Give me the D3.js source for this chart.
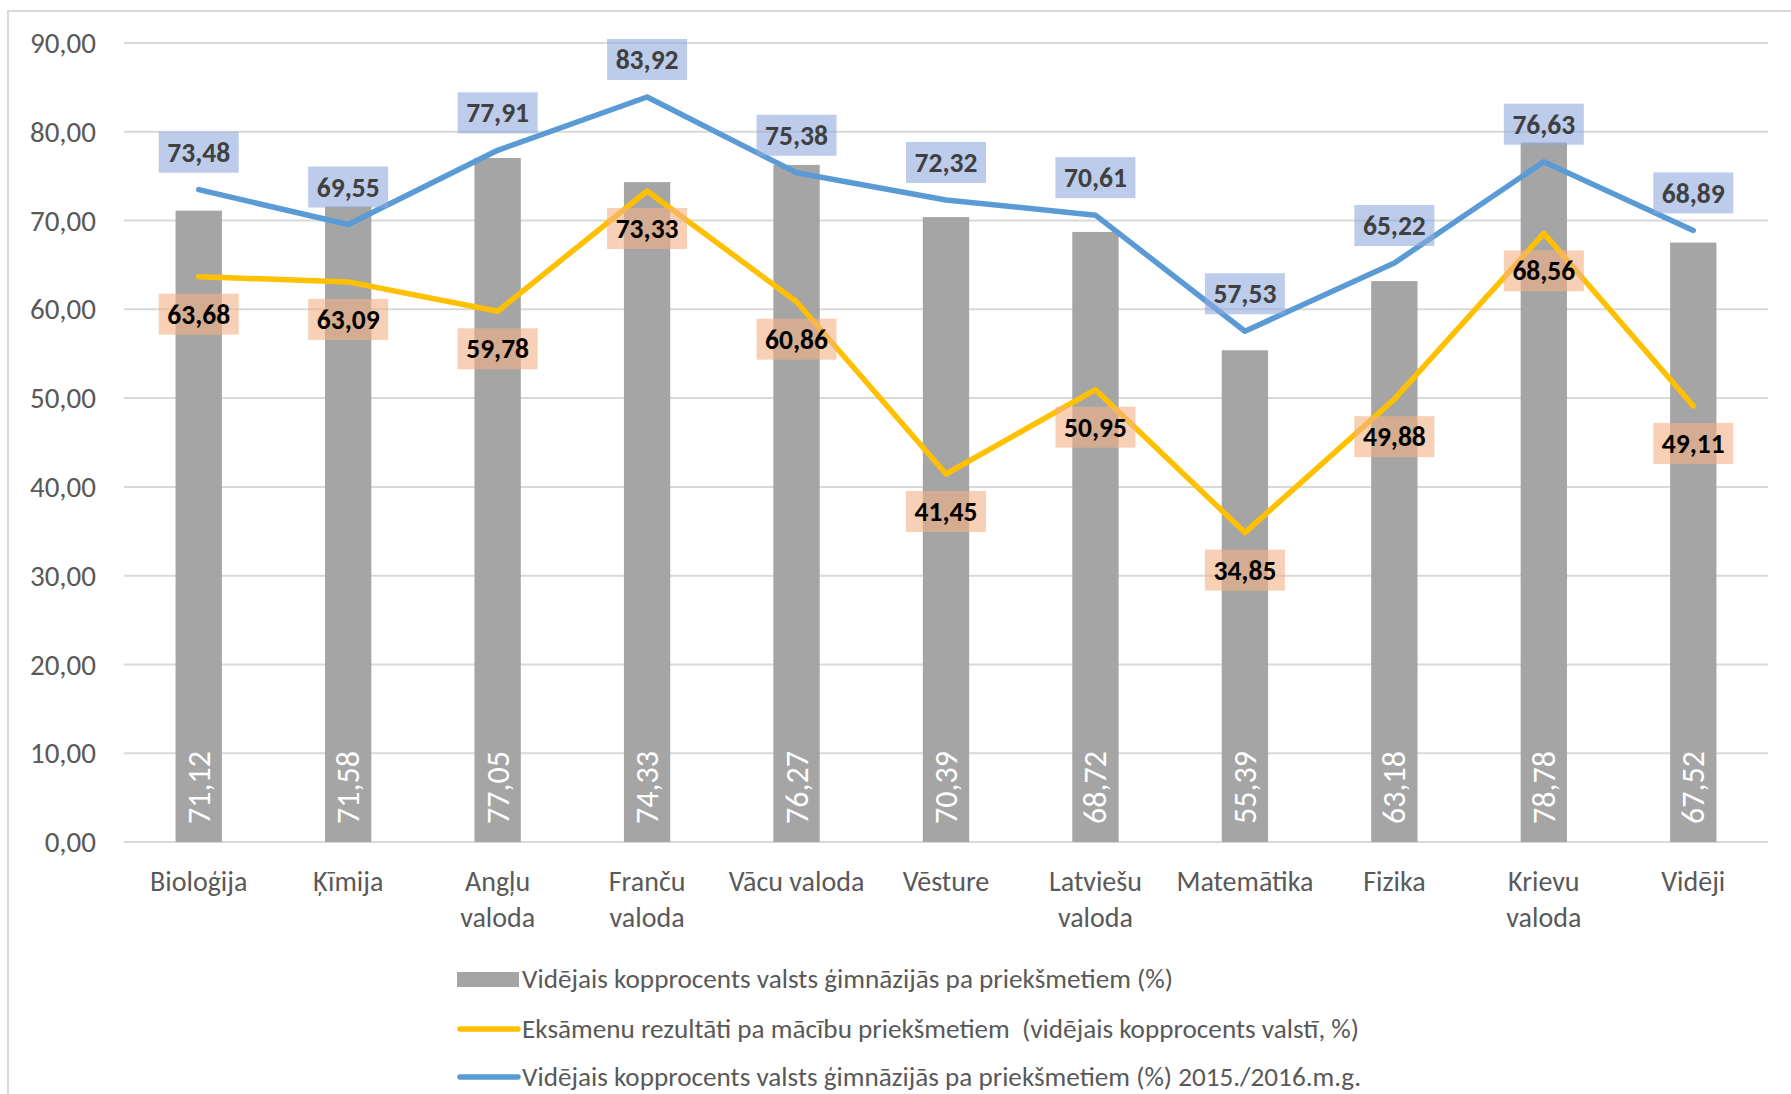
<!DOCTYPE html>
<html><head><meta charset="utf-8">
<script src="https://cdn.jsdelivr.net/npm/d3@7"></script>
<style>body{margin:0;background:#fff}svg{display:block}text{font-family:Carlito,"Liberation Sans",Arial,sans-serif;white-space:pre}</style>
</head><body>
<script>
const categories = [["Bioloģija"],["Ķīmija"],["Angļu","valoda"],["Franču","valoda"],["Vācu valoda"],["Vēsture"],["Latviešu","valoda"],["Matemātika"],["Fizika"],["Krievu","valoda"],["Vidēji"]];
const barValues = [71.12,71.58,77.05,74.33,76.27,70.39,68.72,55.39,63.18,78.78,67.52];
const examValues = [63.68,63.09,59.78,73.33,60.86,41.45,50.95,34.85,49.88,68.56,49.11];
const prevValues = [73.48,69.55,77.91,83.92,75.38,72.32,70.61,57.53,65.22,76.63,68.89];
const yTicks = [0,10,20,30,40,50,60,70,80,90];
const legendLabels = ["Vidējais kopprocents valsts ģimnāzijās pa priekšmetiem (%)","Eksāmenu rezultāti pa mācību priekšmetiem  (vidējais kopprocents valstī, %)","Vidējais kopprocents valsts ģimnāzijās pa priekšmetiem (%) 2015./2016.m.g."];

const W=1791,H=1094;
const svg=d3.select("body").append("svg").attr("width",W).attr("height",H);
const fmt=v=>v.toFixed(2).replace(".",",");
const x=d3.scaleBand().domain(d3.range(categories.length)).range([124,1768]).paddingInner(0.69).paddingOuter(0.345);
const y=d3.scaleLinear().domain([0,90]).range([842,43]);
const cx=i=>x(i)+x.bandwidth()/2;

// outer border
svg.append("path").attr("d","M8,1100 L8,11 L1800,11").attr("fill","none").attr("stroke","#d9d9d9").attr("stroke-width",2);

// gridlines
svg.append("g").selectAll("line").data(yTicks).join("line")
 .attr("x1",124).attr("x2",1768).attr("y1",d=>y(d)).attr("y2",d=>y(d))
 .attr("stroke","#d9d9d9").attr("stroke-width",2);
// y labels
svg.append("g").selectAll("text").data(yTicks).join("text")
 .attr("x",96).attr("y",d=>y(d)).attr("dy","0.35em").attr("text-anchor","end")
 .attr("font-size",29).attr("fill","#595959").text(d=>fmt(d));

// bars
svg.append("g").selectAll("rect").data(barValues).join("rect")
 .attr("x",(d,i)=>x(i)).attr("width",x.bandwidth()).attr("y",d=>y(d)).attr("height",d=>y(0)-y(d)).attr("fill","#a5a5a5");
svg.append("g").selectAll("text").data(barValues).join("text")
 .attr("transform",(d,i)=>`translate(${cx(i)+11},${y(0)-18}) rotate(-90)`)
 .attr("font-size",32).attr("fill","#fff").text(d=>fmt(d));

// category labels
const cl=svg.append("g").selectAll("text").data(categories).join("text")
 .attr("x",(d,i)=>cx(i)).attr("y",891).attr("text-anchor","middle").attr("font-size",28).attr("fill","#595959");
cl.selectAll("tspan").data(d=>d).join("tspan").attr("x",function(){return d3.select(this.parentNode).attr("x")}).attr("dy",(d,j)=>j?36:0).text(d=>d);

// lines
const line=d3.line().x((d,i)=>cx(i)).y(d=>y(d));
svg.append("path").datum(examValues).attr("d",line).attr("fill","none").attr("stroke","#ffc000").attr("stroke-width",5.5).attr("stroke-linecap","round").attr("stroke-linejoin","round");
svg.append("path").datum(prevValues).attr("d",line).attr("fill","none").attr("stroke","#5b9bd5").attr("stroke-width",5.5).attr("stroke-linecap","round").attr("stroke-linejoin","round");

// labels
function labels(vals,off,fill,op,color){
 const g=svg.append("g").selectAll("g").data(vals).join("g").attr("transform",(d,i)=>`translate(${cx(i)},${y(d)+off})`);
 g.append("rect").attr("x",-40).attr("y",-20.5).attr("width",80).attr("height",41).attr("fill",fill).attr("opacity",op);
 g.append("text").attr("text-anchor","middle").attr("dy","0.35em").attr("font-size",27.5).attr("font-weight","bold").attr("fill",color).text(d=>fmt(d));
}
labels(prevValues,-37.5,"#8faadc",0.6,"#404040");
labels(examValues,37.5,"#f4b183",0.6,"#000");

// legend
const lg=svg.append("g");
const ly=[979,1029,1077];
lg.append("rect").attr("x",457).attr("y",ly[0]-7).attr("width",62).attr("height",15).attr("fill","#a5a5a5");
lg.append("line").attr("x1",460).attr("x2",518).attr("y1",ly[1]).attr("y2",ly[1]).attr("stroke","#ffc000").attr("stroke-width",5.5).attr("stroke-linecap","round");
lg.append("line").attr("x1",460).attr("x2",518).attr("y1",ly[2]).attr("y2",ly[2]).attr("stroke","#5b9bd5").attr("stroke-width",5.5).attr("stroke-linecap","round");
const tl=[651,837,839];
lg.selectAll("text").data(legendLabels).join("text").attr("x",522).attr("y",(d,i)=>ly[i]).attr("dy","0.35em")
 .attr("font-size",26).attr("fill","#595959").attr("textLength",(d,i)=>tl[i]).attr("lengthAdjust","spacingAndGlyphs").text(d=>d);
</script>
</body></html>
